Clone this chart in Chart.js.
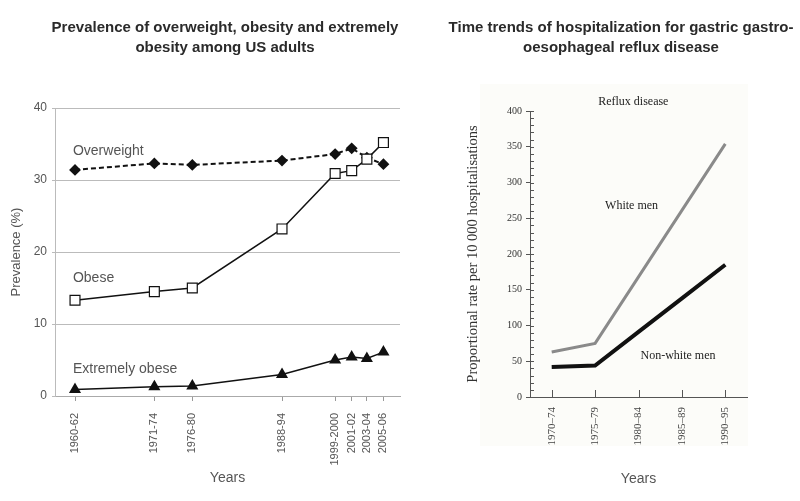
<!DOCTYPE html>
<html>
<head>
<meta charset="utf-8">
<script src="https://cdn.jsdelivr.net/npm/chart.js@4.4.0/dist/chart.umd.min.js"></script>
<style>
  body { margin: 0; background: #fff; }
  #wrap { position: relative; width: 800px; height: 501px; overflow: hidden; }
  #leftChart { position: absolute; left: 0; top: 0; }
  #rightChart { position: absolute; left: 420px; top: 0; }
</style>
</head>
<body>
<div id="wrap">
  <canvas id="leftChart" width="420" height="501"></canvas>
  <canvas id="rightChart" width="380" height="501"></canvas>
</div>
<script>
'use strict';

// left panel: US adults
let surveyYears = [1961, 1972.5, 1978, 1991, 1998.7, 2001.1, 2003.3, 2005.7];
let surveyLabels = ['1960-62', '1971-74', '1976-80', '1988-94', '1999-2000', '2001-02', '2003-04', '2005-06'];
let overweight = [31.4, 32.3, 32.1, 32.7, 33.6, 34.4, 33.1, 32.2];
let obese = [13.3, 14.5, 15.0, 23.2, 30.9, 31.3, 32.9, 35.2];
let extremelyObese = [0.9, 1.3, 1.4, 3.0, 5.0, 5.4, 5.2, 6.1];
let prevalenceTicks = [0, 10, 20, 30, 40];

// right panel: reflux disease
let refluxPeriods = ['1970–74', '1975–79', '1980–84', '1985–89', '1990–95'];
let whiteMen = [63, 75, 168, 261, 354];
let nonWhiteMen = [42, 44, 91, 138, 185];

let leftNotes = [
  { text: 'Overweight', x: 1960.7, y: 34.0 },
  { text: 'Obese', x: 1960.7, y: 16.4 },
  { text: 'Extremely obese', x: 1960.7, y: 3.75 },
];
let rightNotes = [
  { text: 'Reflux disease', x: 1.88, y: 413 },
  { text: 'White men', x: 1.84, y: 268 },
  { text: 'Non-white men', x: 2.91, y: 58 },
];

const SANS = '"Liberation Sans", Arial, sans-serif';
const SERIF = '"Liberation Serif", "Times New Roman", serif';

Chart.defaults.font.family = SANS;

function pairs(values) {
  return surveyYears.map((x, i) => ({ x: x, y: values[i] }));
}

function headline(lines, cx) {
  return {
    id: 'headline',
    afterDraw(chart) {
      let ctx = chart.ctx;
      ctx.save();
      ctx.font = 'bold 15px ' + SANS;
      ctx.fillStyle = '#2a2a2a';
      ctx.textAlign = 'center';
      ctx.textBaseline = 'middle';
      lines.forEach((t, i) => ctx.fillText(t, cx, 28 + i * 20));
      ctx.restore();
    }
  };
}

function notes(list, font, color, align) {
  return {
    id: 'notes',
    afterDatasetsDraw(chart) {
      let ctx = chart.ctx;
      ctx.save();
      ctx.font = font;
      ctx.fillStyle = color;
      ctx.textAlign = align;
      ctx.textBaseline = 'middle';
      list.forEach(n => {
        ctx.fillText(n.text, chart.scales.x.getPixelForValue(n.x), chart.scales.y.getPixelForValue(n.y));
      });
      ctx.restore();
    }
  };
}

let refluxAxes = {
  id: 'refluxAxes',
  beforeDraw(chart) {
    let ctx = chart.ctx;
    ctx.save();
    ctx.fillStyle = '#fcfcf9';
    ctx.fillRect(60, 84, 268, 362);
    ctx.restore();
  },
  afterDraw(chart) {
    let { x, y } = chart.scales;
    let ctx = chart.ctx;
    ctx.save();
    ctx.strokeStyle = '#555';
    ctx.lineWidth = 1;
    ctx.beginPath();
    for (let v = y.min; v <= y.max; v += 10) {
      let py = Math.round(y.getPixelForValue(v)) + 0.5;
      ctx.moveTo(x.left, py);
      ctx.lineTo(x.left + 4, py);
    }
    refluxPeriods.forEach((p, i) => {
      let px = Math.round(x.getPixelForValue(i)) + 0.5;
      ctx.moveTo(px, y.bottom);
      ctx.lineTo(px, y.bottom - 7);
    });
    ctx.stroke();
    ctx.restore();
  }
};

new Chart(document.getElementById('leftChart'), {
  type: 'line',
  data: {
    datasets: [
      {
        label: 'Obese',
        data: pairs(obese),
        borderColor: '#111',
        borderWidth: 1.5,
        pointStyle: 'rect',
        pointRadius: 7,
        pointBackgroundColor: '#fff',
        pointBorderColor: '#111',
        pointBorderWidth: 1.2,
        order: 1
      },
      {
        label: 'Overweight',
        data: pairs(overweight),
        borderColor: '#111',
        borderWidth: 2,
        borderDash: [5, 3],
        pointStyle: 'rectRot',
        pointRadius: 4.5,
        pointBackgroundColor: '#111',
        pointBorderColor: '#111',
        order: 2
      },
      {
        label: 'Extremely obese',
        data: pairs(extremelyObese),
        borderColor: '#111',
        borderWidth: 1.5,
        pointStyle: 'triangle',
        pointRadius: 5.5,
        pointBackgroundColor: '#111',
        pointBorderColor: '#111',
        order: 3
      }
    ]
  },
  options: {
    responsive: false,
    animation: false,
    layout: { padding: { top: 108, right: 20, left: 0, bottom: 0 } },
    plugins: { legend: { display: false }, tooltip: { enabled: false } },
    scales: {
      x: {
        type: 'linear',
        min: 1958.1,
        max: 2008.1,
        afterBuildTicks: s => { s.ticks = surveyYears.map(v => ({ value: v })); },
        afterFit: s => { s.height = 105; },
        ticks: {
          autoSkip: false,
          minRotation: 90,
          maxRotation: 90,
          padding: 12,
          color: '#555',
          font: { size: 11 },
          callback: (v, i) => surveyLabels[i]
        },
        grid: { drawOnChartArea: false, tickLength: 5, color: '#999' },
        border: { color: '#aaa' },
        title: { display: true, text: 'Years', color: '#555', font: { size: 14 }, padding: { top: 0, bottom: 14 } }
      },
      y: {
        min: 0,
        max: 40,
        afterBuildTicks: s => { s.ticks = prevalenceTicks.map(v => ({ value: v })); },
        afterFit: s => { s.width = 55; },
        ticks: { color: '#555', font: { size: 12 }, padding: 5 },
        grid: { color: '#bbb', tickLength: 3 },
        border: { color: '#bbb' },
        title: { display: true, text: 'Prevalence (%)', color: '#555', font: { size: 13 }, padding: { top: 9, bottom: 0 } }
      }
    }
  },
  plugins: [
    headline(['Prevalence of overweight, obesity and extremely', 'obesity among US adults'], 225),
    notes(leftNotes, '14px ' + SANS, '#555', 'left')
  ]
});

new Chart(document.getElementById('rightChart'), {
  type: 'line',
  data: {
    labels: refluxPeriods,
    datasets: [
      { label: 'White men', data: whiteMen, borderColor: '#8a8a8a', borderWidth: 3, pointRadius: 0 },
      { label: 'Non-white men', data: nonWhiteMen, borderColor: '#111', borderWidth: 4, pointRadius: 0 }
    ]
  },
  options: {
    responsive: false,
    animation: false,
    layout: { padding: { top: 111, right: 53, left: 0, bottom: 0 } },
    plugins: { legend: { display: false }, tooltip: { enabled: false } },
    scales: {
      x: {
        type: 'category',
        offset: true,
        afterFit: s => { s.height = 104; },
        ticks: {
          autoSkip: false,
          minRotation: 90,
          maxRotation: 90,
          padding: 10,
          color: '#444',
          font: { family: SERIF, size: 11 }
        },
        grid: { display: false, drawTicks: false },
        border: { color: '#555' },
        title: { display: true, text: 'Years', color: '#555', font: { size: 14 }, padding: { top: 0, bottom: 13.6 } }
      },
      y: {
        min: 0,
        max: 400,
        afterFit: s => { s.width = 110; },
        ticks: { stepSize: 50, color: '#333', font: { family: SERIF, size: 10 }, padding: 4 },
        grid: { drawOnChartArea: false, tickLength: 4, color: '#555' },
        border: { color: '#555' },
        title: {
          display: true,
          text: 'Proportional rate per 10 000 hospitalisations',
          color: '#333',
          font: { family: SERIF, size: 14.5 },
          padding: { top: 44, bottom: 0 }
        }
      }
    }
  },
  plugins: [
    refluxAxes,
    headline(['Time trends of hospitalization for gastric gastro-', 'oesophageal reflux disease'], 201),
    notes(rightNotes, '12px ' + SERIF, '#222', 'center')
  ]
});
</script>
</body>
</html>
